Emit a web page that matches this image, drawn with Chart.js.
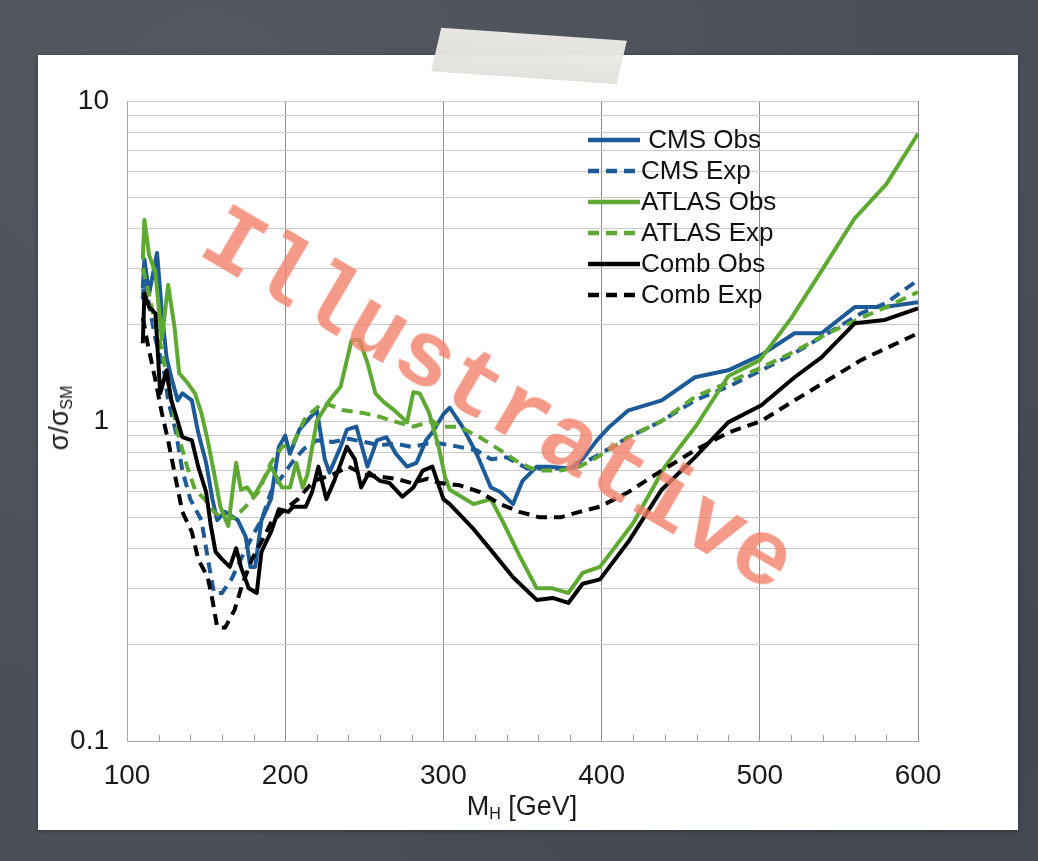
<!DOCTYPE html>
<html lang="en">
<head>
  <meta charset="UTF-8" />
  <title>Higgs exclusion limits</title>
  <style>
    body {
      margin: 0;
      width: 1038px;
      height: 861px;
      overflow: hidden;
      position: relative;
      font-family: 'Liberation Sans', Arial, sans-serif;
      background-color: #4a4f58;
      background-image:
        radial-gradient(ellipse at 20% 10%, rgba(255,255,255,0.05), transparent 60%),
        radial-gradient(ellipse at 85% 80%, rgba(0,0,0,0.12), transparent 55%);
    }
    #card {
      position: absolute;
      left: 38px; top: 55px;
      width: 980px; height: 775px;
      background: #ffffff;
      box-shadow: 0 1px 4px rgba(0,0,0,0.35);
    }
    #tape {
      position: absolute;
      left: 436px; top: 34px;
      width: 186px; height: 44px;
      background: linear-gradient(180deg, #eeece7, #e3e1db);
      transform: rotate(4deg) skewX(-9deg);
      opacity: 0.96;
    }
    #chart-box {
      position: absolute;
      left: 38px; top: 55px;
      width: 980px; height: 775px;
    }
    .axis-title {
      position: absolute;
      font-size: 27px;
      color: #1a1a1a;
      white-space: nowrap;
    }
    .axis-title sub { font-size: 16px; vertical-align: -4px; }
    #xtitle { left: 522px; top: 807px; transform: translate(-50%, -50%); }
    #ytitle { left: 60px; top: 418px; transform: translate(-50%, -50%) rotate(-90deg); }
    #stamp {
      position: absolute;
      left: 497px; top: 402px;
      transform: translate(-50%, -50%) rotate(30.5deg);
      font-family: 'Liberation Mono', 'DejaVu Sans Mono', monospace;
      font-weight: bold;
      font-size: 93px;
      color: rgba(243, 128, 106, 0.8);
      white-space: nowrap;
      pointer-events: none;
    }
  </style>
</head>
<body>
  <div id="card"></div>
  <div id="tape"></div>
  <div id="chart-box"><canvas id="chartCanvas"></canvas></div>
  <div class="axis-title" id="xtitle">M<sub>H</sub> [GeV]</div>
  <div class="axis-title" id="ytitle">&sigma;/&sigma;<sub>SM</sub></div>
  <div id="stamp">Illustrative</div>

  <script src="https://cdn.jsdelivr.net/npm/chart.js"></script>
  <script>
    // values (mass in GeV, limit in units of sigma_SM)
    const massCmsObs = [110,111,114,119,122,125,128,132,135,141,145,150,154,157,162,170,175,178,181,185,191,196,200,203,209,216,220,225,228,235,239,245,252,258,264,270,277,283,289,293,300,304,312,321,330,336,344,350,359,367,380,388,397,405,417,438,459,480,501,522,539,560,579,600];
    const cmsObs = [2.6,3.2,2.5,3.35,2.2,1.58,1.37,1.16,1.22,1.16,0.92,0.74,0.57,0.49,0.52,0.49,0.435,0.35,0.35,0.49,0.57,0.83,0.9,0.79,0.94,1.03,1.08,0.76,0.69,0.83,0.94,0.96,0.72,0.87,0.89,0.79,0.72,0.74,0.87,0.92,1.05,1.1,0.96,0.79,0.62,0.6,0.55,0.65,0.72,0.72,0.71,0.76,0.87,0.96,1.08,1.16,1.37,1.44,1.61,1.88,1.88,2.27,2.27,2.35];

    const massCmsExp = [110,111,114,118,123,126,131,135,140,147,152,155,160,166,172,179,185,191,198,205,212,220,230,240,250,260,270,280,290,298,310,321,330,340,353,367,382,390,403,417,438,459,480,501,522,543,564,580,600];
    const cmsExp = [2.4,2.9,2.3,1.8,1.47,1.16,0.92,0.7,0.57,0.49,0.35,0.29,0.29,0.32,0.37,0.435,0.49,0.6,0.67,0.75,0.82,0.87,0.86,0.88,0.86,0.84,0.85,0.83,0.85,0.85,0.83,0.81,0.76,0.77,0.71,0.71,0.71,0.745,0.81,0.89,1.0,1.16,1.28,1.44,1.63,1.88,2.17,2.34,2.76];

    const massAtlasObs = [110,111,114,118,122,126,130,133,138,143,147,151,155,159,164,169,172,176,180,185,191,198,203,207,211,214,220,228,235,242,247,252,257,262,269,277,281,285,291,297,301,304,319,330,338,348,359,369,379,388,399,420,440,460,480,500,520,540,560,580,600];
    const atlasObs = [3.2,4.25,3.3,2.9,1.8,2.66,1.97,1.41,1.32,1.22,1.06,0.87,0.69,0.54,0.47,0.74,0.61,0.62,0.58,0.64,0.72,0.62,0.62,0.74,0.62,0.68,1.0,1.16,1.28,1.79,1.79,1.52,1.22,1.15,1.08,0.99,1.23,1.22,1.06,0.83,0.67,0.61,0.55,0.57,0.48,0.38,0.3,0.3,0.29,0.335,0.35,0.48,0.72,0.97,1.38,1.55,2.1,3.0,4.3,5.5,7.9];

    const massAtlasExp = [110,113,118,122,126,132,138,143,149,155,162,168,175,183,191,198,205,213,224,237,249,260,268,281,293,298,310,323,336,348,359,374,386,397,417,438,459,480,501,522,543,564,580,600];
    const atlasExp = [3.0,2.6,2.0,1.67,1.31,0.92,0.72,0.61,0.57,0.52,0.49,0.5,0.54,0.6,0.74,0.83,0.85,1.03,1.14,1.08,1.06,1.03,1.0,0.96,1.0,0.96,0.96,0.89,0.81,0.74,0.7,0.7,0.72,0.77,0.89,1.0,1.19,1.32,1.47,1.65,1.88,2.1,2.27,2.53];

    const massCombObs = [110,111,114,118,121,125,128,132,135,141,145,150,153,156,160,165,169,172,177,182,185,191,196,202,205,213,217,221,226,231,239,244,248,253,260,266,274,281,287,293,300,304,319,331,344,359,369,379,388,399,417,438,459,480,501,522,539,560,579,600];
    const combObs = [1.75,2.5,2.27,2.17,1.22,1.44,1.16,1.0,0.89,0.87,0.72,0.6,0.47,0.39,0.37,0.35,0.4,0.35,0.3,0.29,0.39,0.45,0.53,0.52,0.54,0.54,0.6,0.72,0.57,0.65,0.83,0.76,0.62,0.69,0.65,0.64,0.58,0.62,0.7,0.72,0.57,0.55,0.46,0.39,0.325,0.276,0.28,0.27,0.31,0.32,0.42,0.61,0.77,0.99,1.12,1.37,1.58,2.02,2.07,2.25];

    const massCombExp = [110,113,118,122,126,130,135,141,145,151,154,157,162,168,173,179,185,191,198,208,218,230,240,250,260,270,280,290,298,310,323,336,348,361,374,386,399,417,438,459,480,501,522,543,564,600];
    const combExp = [2.1,1.75,1.34,1.06,0.87,0.69,0.52,0.45,0.37,0.325,0.276,0.227,0.226,0.257,0.31,0.37,0.42,0.48,0.52,0.57,0.65,0.68,0.72,0.68,0.67,0.66,0.64,0.66,0.64,0.63,0.6,0.55,0.52,0.5,0.5,0.52,0.54,0.6,0.7,0.81,0.92,1.0,1.16,1.34,1.55,1.88];

    const seriesNames = [' CMS Obs', 'CMS Exp', 'ATLAS Obs', 'ATLAS Exp', 'Comb Obs', 'Comb Exp'];
    const yTicks = [0.1,0.2,0.3,0.4,0.5,0.6,0.7,0.8,0.9,1,2,3,4,5,6,7,8,9,10];
    const yLabels = [0.1, 1, 10];
    const xMinorTicks = [120,140,160,180,220,240,260,280,320,340,360,380,420,440,460,480,520,540,560,580];

    const BLUE = '#1d5a98';
    const GREEN = '#5ea932';
    const BLACK = '#000000';
    const FONT = "'Liberation Sans', Arial, sans-serif";

    function pts(ms, vs) {
      return ms.map((m, i) => ({ x: m, y: vs[i] }));
    }

    function series(i, ms, vs, color, dashed) {
      return {
        label: seriesNames[i],
        data: pts(ms, vs),
        borderColor: color,
        backgroundColor: color,
        borderWidth: 4,
        borderDash: dashed ? [11, 7] : [],
        borderJoinStyle: 'round',
        pointRadius: 0,
        tension: 0,
        fill: false,
        order: 6 - i
      };
    }

    // little upward ticks on the bottom axis every 20 GeV
    const minorTicks = {
      id: 'minorTicks',
      afterDraw(chart) {
        const ctx = chart.ctx, x = chart.scales.x, b = chart.chartArea.bottom;
        ctx.save();
        ctx.strokeStyle = '#9a9a9a';
        ctx.lineWidth = 1;
        xMinorTicks.forEach(m => {
          const px = Math.round(x.getPixelForValue(m)) + 0.5;
          ctx.beginPath();
          ctx.moveTo(px, b);
          ctx.lineTo(px, b - 6);
          ctx.stroke();
        });
        ctx.restore();
      }
    };

    // legend drawn inside the plot, top right
    const innerLegend = {
      id: 'innerLegend',
      afterDraw(chart) {
        const ctx = chart.ctx;
        const x0 = 550, x1 = 602, y0 = 85, step = 31;
        ctx.save();
        ctx.font = '26px ' + FONT;
        ctx.textBaseline = 'middle';
        chart.data.datasets.forEach((ds, i) => {
          const y = y0 + i * step;
          ctx.strokeStyle = ds.borderColor;
          ctx.lineWidth = 4.5;
          ctx.setLineDash(ds.borderDash);
          ctx.beginPath();
          ctx.moveTo(x0, y);
          ctx.lineTo(x1, y);
          ctx.stroke();
          ctx.setLineDash([]);
          ctx.fillStyle = '#111';
          ctx.fillText(ds.label, x1 + 1, y + 1);
        });
        ctx.restore();
      }
    };

    const ctx = document.getElementById('chartCanvas').getContext('2d');
    new Chart(ctx, {
      type: 'line',
      data: {
        datasets: [
          series(0, massCmsObs, cmsObs, BLUE, false),
          series(1, massCmsExp, cmsExp, BLUE, true),
          series(2, massAtlasObs, atlasObs, GREEN, false),
          series(3, massAtlasExp, atlasExp, GREEN, true),
          series(4, massCombObs, combObs, BLACK, false),
          series(5, massCombExp, combExp, BLACK, true)
        ]
      },
      options: {
        responsive: true,
        maintainAspectRatio: false,
        animation: false,
        layout: { padding: { top: 46, right: 100, left: 0, bottom: 0 } },
        plugins: {
          legend: { display: false },
          tooltip: { enabled: false }
        },
        scales: {
          x: {
            type: 'linear',
            min: 100,
            max: 600,
            afterFit: s => { s.height = 89; },
            ticks: {
              stepSize: 100,
              autoSkip: false,
              maxRotation: 0,
              padding: 18,
              color: '#1a1a1a',
              font: { family: FONT, size: 28 }
            },
            grid: { color: '#8e8e8e', lineWidth: 1, drawTicks: false },
            border: { color: '#a8a8a8' }
          },
          y: {
            type: 'logarithmic',
            min: 0.1,
            max: 10,
            afterFit: s => { s.width = 89; },
            afterBuildTicks: s => { s.ticks = yTicks.map(v => ({ value: v })); },
            ticks: {
              autoSkip: false,
              padding: 18,
              color: '#1a1a1a',
              font: { family: FONT, size: 28 },
              callback: v => yLabels.includes(v) ? String(v) : ''
            },
            grid: { color: '#c9c9c9', lineWidth: 1, drawTicks: false },
            border: { color: '#a8a8a8' }
          }
        }
      },
      plugins: [minorTicks, innerLegend]
    });
  </script>
</body>
</html>
